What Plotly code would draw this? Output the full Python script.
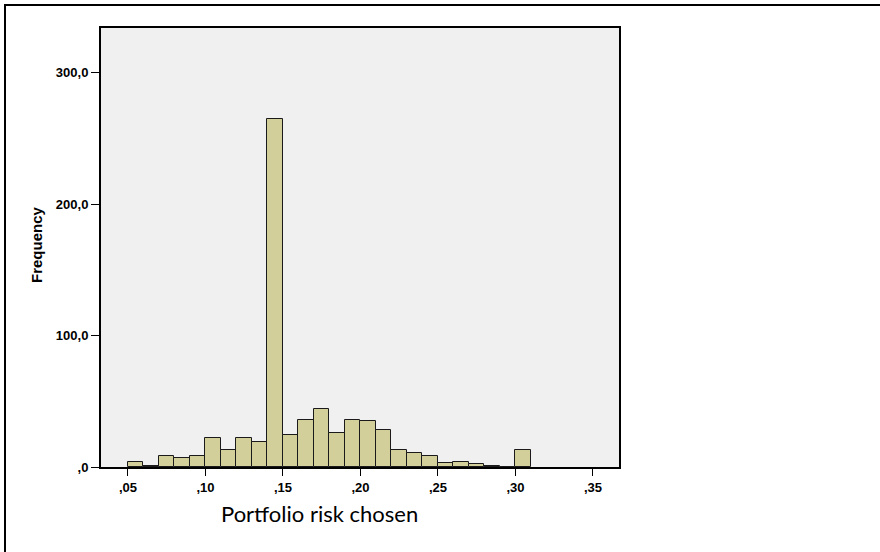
import plotly.graph_objects as go

# Histogram bins (left edges), width 0.01
bin_left = [0.05, 0.06, 0.07, 0.08, 0.09, 0.10, 0.11, 0.12, 0.13, 0.14,
            0.15, 0.16, 0.17, 0.18, 0.19, 0.20, 0.21, 0.22, 0.23, 0.24,
            0.25, 0.26, 0.27, 0.28, 0.29, 0.30]
counts = [4, 1, 8, 7, 8, 22, 13, 22, 19, 265,
          24, 36, 44, 26, 36, 35, 28, 13, 11, 8,
          3, 4, 2, 1, 0, 13]
bin_width = 0.01

x_tickvals = [0.05, 0.10, 0.15, 0.20, 0.25, 0.30, 0.35]
x_ticktext = [",05", ",10", ",15", ",20", ",25", ",30", ",35"]
y_tickvals = [0, 100, 200, 300]
y_ticktext = [",0", "100,0", "200,0", "300,0"]

x_title = "Portfolio risk chosen"
y_title = "Frequency"

centers = [b + bin_width / 2 for b in bin_left]

fig = go.Figure()
fig.add_trace(go.Bar(
    x=centers, y=counts, width=[bin_width] * len(counts),
    marker=dict(color="#d3cf9b", line=dict(color="#1a1a1a", width=1)),
    showlegend=False, hoverinfo="x+y",
))

L, R, T, B = 101, 261, 28, 85
W, H = 880, 552
pw, ph = W - L - R, H - T - B

def xp(px):
    return (px - L) / pw

def yp(py):
    return (H - B - py) / ph

tick_font = dict(family="Liberation Sans, Arial, sans-serif", size=13, color="black", weight="bold")

fig.update_layout(
    width=W, height=H,
    margin=dict(l=L, r=R, t=T, b=B, pad=0),
    paper_bgcolor="white",
    plot_bgcolor="#f0f0f0",
    bargap=0,
    xaxis=dict(
        range=[0.0326, 0.3668], tickvals=x_tickvals, ticktext=x_ticktext,
        ticks="outside", ticklen=7, tickwidth=1, tickcolor="black",
        showline=True, linecolor="black", linewidth=2, mirror=True,
        showgrid=False, zeroline=False, tickfont=tick_font,
    ),
    yaxis=dict(
        range=[0, 334], tickvals=y_tickvals, ticktext=y_ticktext,
        ticks="outside", ticklen=8, tickwidth=1, tickcolor="black",
        showline=True, linecolor="black", linewidth=2, mirror=True,
        showgrid=False, zeroline=False, tickfont=tick_font,
    ),
    annotations=[
        dict(text=y_title, xref="paper", yref="paper", x=xp(37), y=yp(245),
             xanchor="center", yanchor="middle",
             textangle=-90, showarrow=False,
             font=dict(family="Liberation Sans, Arial, sans-serif", size=15, color="black", weight="bold")),
        dict(text=x_title, xref="paper", yref="paper", x=xp(319), y=yp(513),
             xanchor="center", yanchor="middle",
             showarrow=False,
             font=dict(family="Lato, sans-serif", size=22, color="black")),
    ],
    shapes=[
        dict(type="line", xref="paper", yref="paper", x0=xp(5), x1=xp(5),
             y0=yp(560), y1=yp(4), line=dict(color="black", width=2)),
        dict(type="line", xref="paper", yref="paper", x0=xp(4), x1=xp(890),
             y0=yp(5), y1=yp(5), line=dict(color="black", width=2)),
    ],
)

fig.write_html("out.html")
